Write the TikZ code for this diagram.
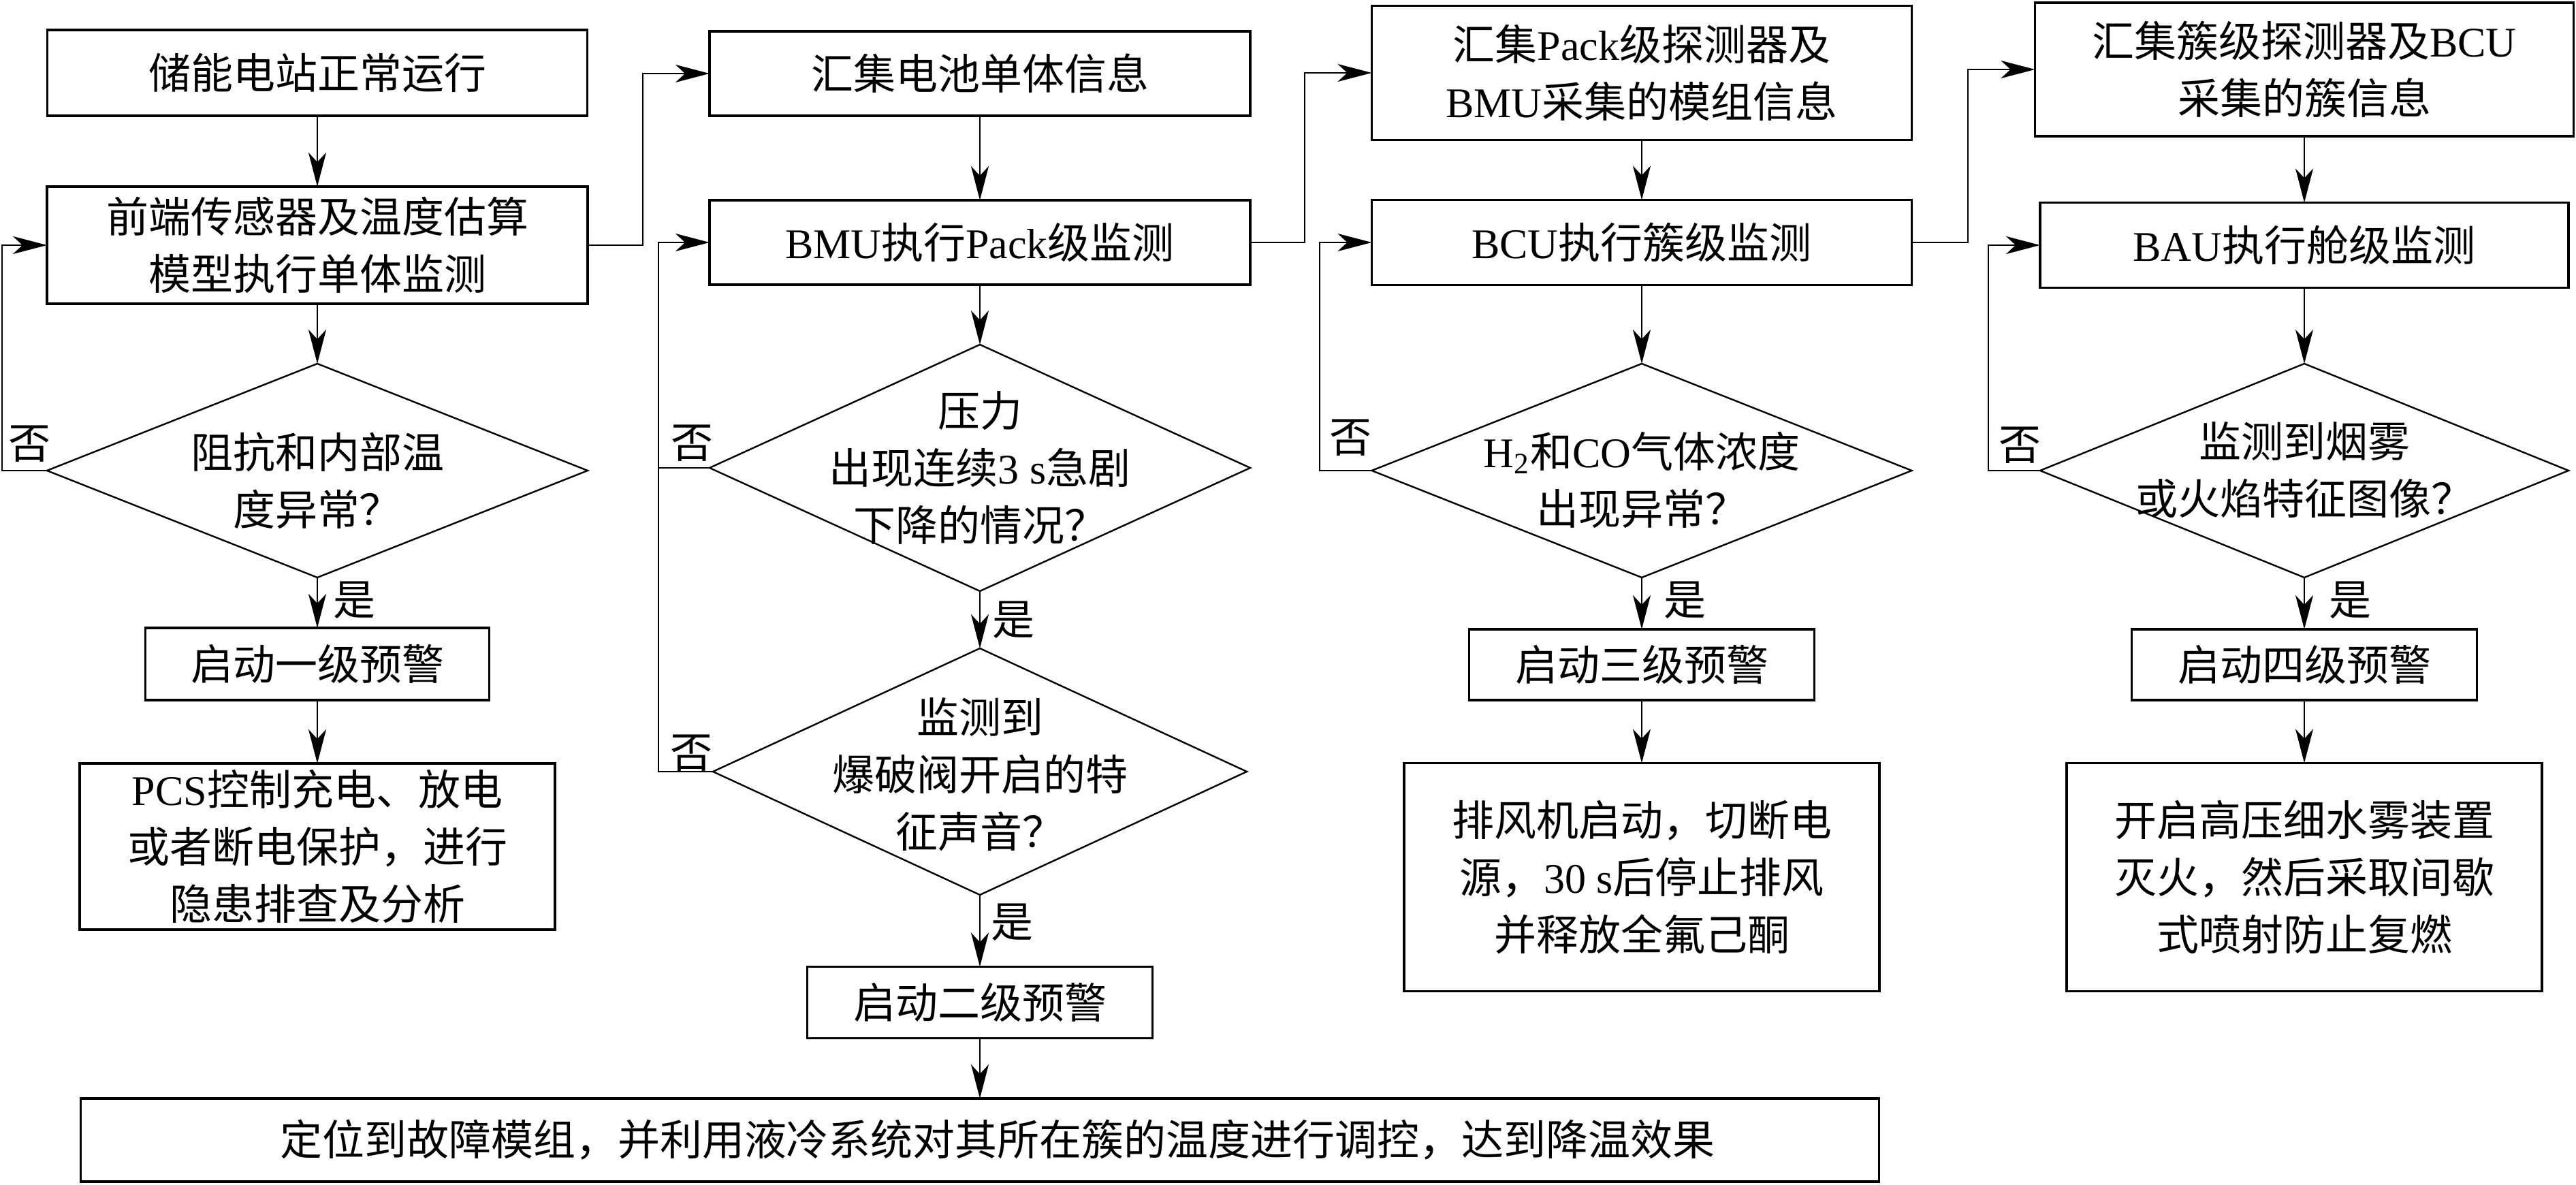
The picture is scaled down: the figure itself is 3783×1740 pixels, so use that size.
\documentclass[tikz,border=0pt]{standalone}
\usepackage{fontspec}
\setmainfont{Noto Sans CJK SC}
\newfontfamily\latn{Liberation Serif}
\usetikzlibrary{shapes.geometric,arrows.meta}
\def\unitpx{0.25pt}
\newcommand\fs{\fontsize{15.5pt}{21pt}\selectfont}
\newcommand\lt[1]{{\latn #1}}
\tikzset{
  box/.style={draw, line width=0.8pt, inner sep=0pt, outer sep=0pt, align=center, font=\fs},
  dia/.style={draw, diamond, line width=0.6pt, inner sep=0pt, outer sep=0pt},
  arr/.style={-{Stealth[length=12.5pt,width=6.5pt,inset=3.5pt]}, line width=0.6pt},
  ln/.style={line width=0.6pt},
  lab/.style={font=\fs, inner sep=0pt, align=center}
}
\begin{document}
\begin{tikzpicture}[x=\unitpx,y=-\unitpx]
\useasboundingbox (0,0) rectangle (3783,1740);
% column 1
\node[box, minimum width=793*\unitpx, minimum height=126*\unitpx] (b1) at (466,107) {储能电站正常运行};
\node[box, minimum width=794*\unitpx, minimum height=172*\unitpx] (b2) at (466,360) {前端传感器及温度估算\\模型执行单体监测};
\node[dia, minimum width=794*\unitpx, minimum height=314*\unitpx] (d1) at (466,691) {};
\node[lab] (t1) at (466,706) {阻抗和内部温\\度异常？};
\node[box, minimum width=505*\unitpx, minimum height=106*\unitpx] (b3) at (466,975) {启动一级预警};
\node[box, minimum width=698*\unitpx, minimum height=244*\unitpx] (b4) at (466,1243) {\lt{PCS}控制充电、放电\\或者断电保护，进行\\隐患排查及分析};
% column 2
\node[box, minimum width=794*\unitpx, minimum height=124*\unitpx] (c1) at (1439,108) {汇集电池单体信息};
\node[box, minimum width=794*\unitpx, minimum height=124*\unitpx] (c2) at (1439,356) {\lt{BMU}执行\lt{Pack}级监测};
\node[dia, minimum width=794*\unitpx, minimum height=362*\unitpx] (d2) at (1439,687) {};
\node[lab] (t2) at (1439,687) {压力\\出现连续\lt{3 s}急剧\\下降的情况？};
\node[dia, minimum width=784*\unitpx, minimum height=362*\unitpx] (d3) at (1439,1133) {};
\node[lab] (t3) at (1439,1137) {监测到\\爆破阀开启的特\\征声音？};
\node[box, minimum width=507*\unitpx, minimum height=105*\unitpx] (c3) at (1439,1472) {启动二级预警};
\node[box, minimum width=2641*\unitpx, minimum height=122*\unitpx] (bot) at (1439,1674) {\hspace*{13pt}定位到故障模组，并利用液冷系统对其所在簇的温度进行调控，达到降温效果};
% column 3
\node[box, minimum width=793*\unitpx, minimum height=197*\unitpx] (e1) at (2411,107) {汇集\lt{Pack}级探测器及\\\lt{BMU}采集的模组信息};
\node[box, minimum width=793*\unitpx, minimum height=125*\unitpx] (e2) at (2411,356) {\lt{BCU}执行簇级监测};
\node[dia, minimum width=793*\unitpx, minimum height=314*\unitpx] (d4) at (2411,691) {};
\node[lab] (t4) at (2411,705) {\lt{H\textsubscript{2}}和\lt{CO}气体浓度\\出现异常？};
\node[box, minimum width=507*\unitpx, minimum height=104*\unitpx] (e3) at (2411,976) {启动三级预警};
\node[box, minimum width=698*\unitpx, minimum height=335*\unitpx] (e4) at (2411,1288) {排风机启动，切断电\\源，\lt{30 s}后停止排风\\并释放全氟己酮};
% column 4
\node[box, minimum width=791*\unitpx, minimum height=196*\unitpx] (f1) at (3384,102) {汇集簇级探测器及\lt{BCU}\\采集的簇信息};
\node[box, minimum width=776*\unitpx, minimum height=125*\unitpx] (f2) at (3384,360) {\lt{BAU}执行舱级监测};
\node[dia, minimum width=776*\unitpx, minimum height=314*\unitpx] (d5) at (3384,691) {};
\node[lab] (t5) at (3384,690) {监测到烟雾\\或火焰特征图像？};
\node[box, minimum width=507*\unitpx, minimum height=104*\unitpx] (f3) at (3384,976) {启动四级预警};
\node[box, minimum width=698*\unitpx, minimum height=335*\unitpx] (f4) at (3384,1288) {开启高压细水雾装置\\灭火，然后采取间歇\\式喷射防止复燃};
% labels
\node[lab] (y1) at (520,881) {是};
\node[lab] (y2) at (1488,910) {是};
\node[lab] (y3) at (1486,1354) {是};
\node[lab] (y4) at (2474,881) {是};
\node[lab] (y5) at (3451,881) {是};
\node[lab] (n1) at (43,652) {否};
\node[lab] (n2) at (1016,651) {否};
\node[lab] (n3) at (1015,1106) {否};
\node[lab] (n4) at (1983,643) {否};
\node[lab] (n5) at (2966,654) {否};
% feedback coordinates
\coordinate (fb1) at (3,0);
\coordinate (fb2) at (967,0);
\coordinate (fb3) at (1938,0);
\coordinate (fb4) at (2920,0);
\coordinate (up1) at (944,0);
\coordinate (up2) at (1916,0);
\coordinate (up3) at (2890,0);
% column 1 arrows
\draw[arr] (b1.south) -- (b2.north);
\draw[arr] (b2.south) -- (d1.north);
\draw[arr] (d1.south) -- (b3.north);
\draw[arr] (b3.south) -- (b4.north);
\draw[arr] (d1.west) -- (d1.west -| fb1) |- (b2.west);
\draw[arr] (b2.east) -- (b2.east -| up1) |- (c1.west);
% column 2 arrows
\draw[arr] (c1.south) -- (c2.north);
\draw[arr] (c2.south) -- (d2.north);
\draw[arr] (d2.south) -- (d3.north);
\draw[arr] (d3.south) -- (c3.north);
\draw[arr] (c3.south) -- (bot.north -| c3.south);
\draw[ln] (d2.west) -- (d2.west -| fb2);
\draw[arr] (d3.west) -- (d3.west -| fb2) |- (c2.west);
\draw[arr] (c2.east) -- (c2.east -| up2) |- (e1.west);
% column 3 arrows
\draw[arr] (e1.south) -- (e2.north);
\draw[arr] (e2.south) -- (d4.north);
\draw[arr] (d4.south) -- (e3.north);
\draw[arr] (e3.south) -- (e4.north);
\draw[arr] (d4.west) -- (d4.west -| fb3) |- (e2.west);
\draw[arr] (e2.east) -- (e2.east -| up3) |- (f1.west);
% column 4 arrows
\draw[arr] (f1.south) -- (f2.north);
\draw[arr] (f2.south) -- (d5.north);
\draw[arr] (d5.south) -- (f3.north);
\draw[arr] (f3.south) -- (f4.north);
\draw[arr] (d5.west) -- (d5.west -| fb4) |- (f2.west);
\end{tikzpicture}
\end{document}
